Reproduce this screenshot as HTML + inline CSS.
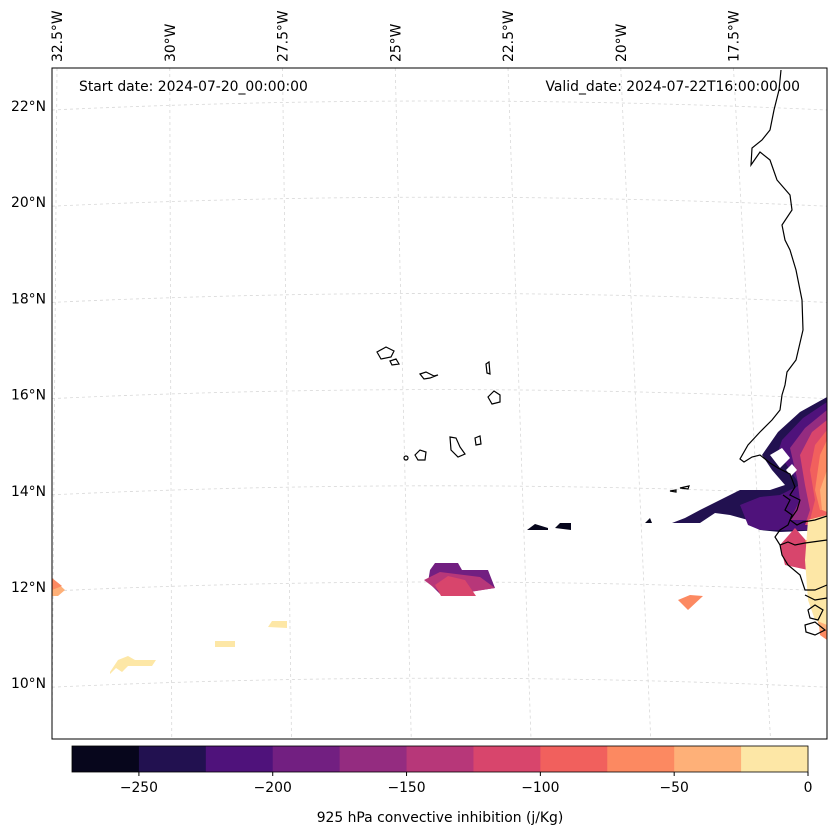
<!DOCTYPE html>
<html><head><meta charset="utf-8">
<style>
body{margin:0;background:#fff;}
svg{display:block;font-family:"DejaVu Sans","Liberation Sans",sans-serif;}
</style></head>
<body>
<svg id="chart" width="837" height="836" viewBox="0 0 837 836">
<g id="grid"></g>
<g id="fills"></g>
<g id="coast" fill="none" stroke="#000" stroke-width="1.2">
<path d="M781 70 L779 90 L774 110 L770 130 L762 140 L752 148 L751 165 L760 152 L770 160 L777 180 L790 195 L792 210 L782 225 L785 240 L790 250 L796 270 L802 300 L803 330 L796 360 L787 372 L785 385 L782 395 L780 410 L772 420 L760 432 L748 445 L740 459 L744 462 L752 457 L760 455 L770 463 L778 468 L790 474 L795 487 L790 495 L800 500 L797 510 L790 520 L797 525 L803 522 L815 520 L827 516"/>
<path d="M783 495 L790 500 L785 510 L792 515 L788 525 L780 530 L775 537 L780 545 L788 542 L795 545 L805 543 L827 540"/>
<path d="M780 545 L782 555 L788 565 L800 575 L805 590 L815 590 L827 585"/>
<path d="M805 595 L815 600 L827 598 M808 610 L815 605 L823 610 L818 620 L810 618 Z M805 625 L815 622 L825 630 L815 635 L806 632 Z"/>
<path d="M377 352 L386 347 L394 351 L391 357 L381 359 Z M390 361 L396 359 L399 364 L392 365 Z M420 374 L426 372 L434 376 L438 375 L430 378 L424 379 Z M486 364 L489 362 L490 374 L487 373 Z M488 397 L494 391 L500 395 L500 402 L492 404 Z M450 437 L456 438 L460 447 L465 454 L458 457 L451 450 Z M475 438 L480 436 L481 444 L476 445 Z M415 455 L420 450 L426 452 L425 460 L418 460 Z"/>
<circle cx="406" cy="458" r="2"/>
<path d="M680 488 L689 486 L688 489 Z M670 491 L676 490 L676 492 Z"/>
</g>
<rect x="52" y="68" width="775" height="671" fill="none" stroke="#000" stroke-width="1"/>
<g id="latlabels" font-size="13.9" text-anchor="end"></g>
<g id="lonlabels" font-size="13.9"></g>
<text x="79" y="91" font-size="13.9">Start date: 2024-07-20_00:00:00</text>
<text x="800" y="91" font-size="13.9" text-anchor="end">Valid_date: 2024-07-22T16:00:00.00</text>
<g id="cbar"></g>
<text x="440" y="822" font-size="13.9" text-anchor="middle">925 hPa convective inhibition (j/Kg)</text>
</svg>
<script>
const levels=[-275,-250,-225,-200,-175,-150,-125,-100,-75,-50,-25,0];
const colors=["#07061c","#221150","#4f127b","#721f81","#942c80","#b73779","#d8456c","#f1605d","#fc8961","#feb078","#fde7a6"];
const tickValues=[-250,-200,-150,-100,-50,0];
const latValues=[22,20,18,16,14,12,10];
const lonValues=[32.5,30,27.5,25,22.5,20,17.5];
const NS="http://www.w3.org/2000/svg";
function mk(tag,attrs,parent){const e=document.createElementNS(NS,tag);for(const k in attrs)e.setAttribute(k,attrs[k]);parent.appendChild(e);return e;}
const yLat=lat=>106+(22-lat)*48.1;
const xLonTop=lon=>57+(32.5-lon)*45.1;
const xLonBot=lon=>52+(32.5-lon)*47.9;
const cbX=v=>72+(v+275)/275*736;
const grid=document.getElementById('grid');
latValues.forEach(l=>{const y=yLat(l);
 const p=mk('path',{d:`M52 ${y+4} Q440 ${y-14} 827 ${y+4}`,stroke:'#d8d8d8','stroke-dasharray':'3,3',fill:'none','stroke-width':0.8},grid);
 
 const t=mk('text',{x:46,y:y+5},document.getElementById('latlabels'));t.textContent=l+'°N';
 });
lonValues.forEach(l=>{const x1=xLonTop(l),x2=xLonBot(l);
 const p=mk('line',{x1:x1,y1:68,x2:x2,y2:739,stroke:'#d8d8d8','stroke-dasharray':'3,3','stroke-width':0.8},grid);
 
 const t=mk('text',{x:0,y:0,transform:`translate(${x1+5},62) rotate(-90)`},document.getElementById('lonlabels'));t.textContent=l+'°W';
 });
const fills=document.getElementById('fills');
const shapes=[
 [9,"M52 578 L65 590 L58 596 L52 596 Z"],[8,"M52 578 L62 586 L52 590 Z"],
 [10,"M110 672 L118 660 L128 656 L135 660 L156 660 L152 666 L128 666 L122 672 L116 668 L110 674 Z"],
 [10,"M215 641 L235 641 L235 647 L215 647 Z"],[10,"M268 627 L272 621 L287 621 L287 628 Z"],
 [3,"M430 570 L435 563 L458 563 L462 570 L488 570 L495 588 L442 596 L428 582 Z"],
 [5,"M424 580 L440 572 L480 577 L495 588 L445 596 Z"],
 [6,"M435 585 L448 576 L465 580 L476 596 L441 596 Z"],
 [8,"M678 600 L690 595 L703 596 L688 610 Z"],
 [0,"M527 530 L535 524 L548 528 L548 530 Z M555 528 L560 523 L571 523 L571 530 Z M645 523 L650 518 L652 523 Z"],
 [1,"M827 397 L800 412 L778 432 L762 455 L772 470 L785 485 L770 490 L740 490 L720 500 L700 510 L685 518 L672 523 L700 523 L715 513 L730 515 L748 520 L760 530 L780 532 L827 530 Z"],
 [2,"M827 402 L803 418 L782 440 L778 452 L790 470 L800 485 L780 495 L760 497 L740 505 L748 525 L760 530 L780 530 L827 530 Z"],
 [4,"M827 410 L805 428 L790 448 L797 478 L800 500 L790 520 L827 520 Z"],
 [6,"M827 420 L812 432 L800 455 L805 485 L810 510 L805 525 L827 525 Z M780 545 L795 528 L810 545 L808 570 L785 565 Z"],
 [7,"M827 430 L815 445 L810 470 L815 500 L810 520 L827 520 Z"],
 [8,"M827 440 L820 455 L815 490 L820 510 L827 510 Z M805 540 L815 580 L820 635 L827 640 L827 540 Z"],
 [9,"M827 470 L820 490 L822 510 L827 512 Z M808 530 L812 600 L820 630 L827 630 L827 530 Z"],
 [10,"M808 520 L827 515 L827 625 L815 620 L808 600 L805 560 Z"]
];
shapes.forEach(s=>{const p=mk('path',{d:s[1],fill:colors[s[0]]},fills);
 });
["M770 455 L782 448 L790 458 L780 468 Z","M786 470 L792 464 L797 470 L791 476 Z"].forEach(d=>{const p=mk('path',{d:d,fill:'#fff'},fills);
 });
const cb=document.getElementById('cbar');
for(let i=0;i<colors.length;i++){const r=mk('rect',{x:cbX(levels[i]),y:746,width:cbX(levels[i+1])-cbX(levels[i])+0.5,height:26,fill:colors[i]},cb);
 }
const o=mk('rect',{x:72,y:746,width:736,height:26,fill:'none',stroke:'#000','stroke-width':0.8},cb);

tickValues.forEach(v=>{const x=cbX(v);const l=mk('line',{x1:x,y1:772,x2:x,y2:776,stroke:'#000'},cb);
 
 const t=mk('text',{x:x,y:792,'font-size':13.9,'text-anchor':'middle'},cb);t.textContent=v<0?'−'+(-v):String(v);
 });
</script>
</body></html>
